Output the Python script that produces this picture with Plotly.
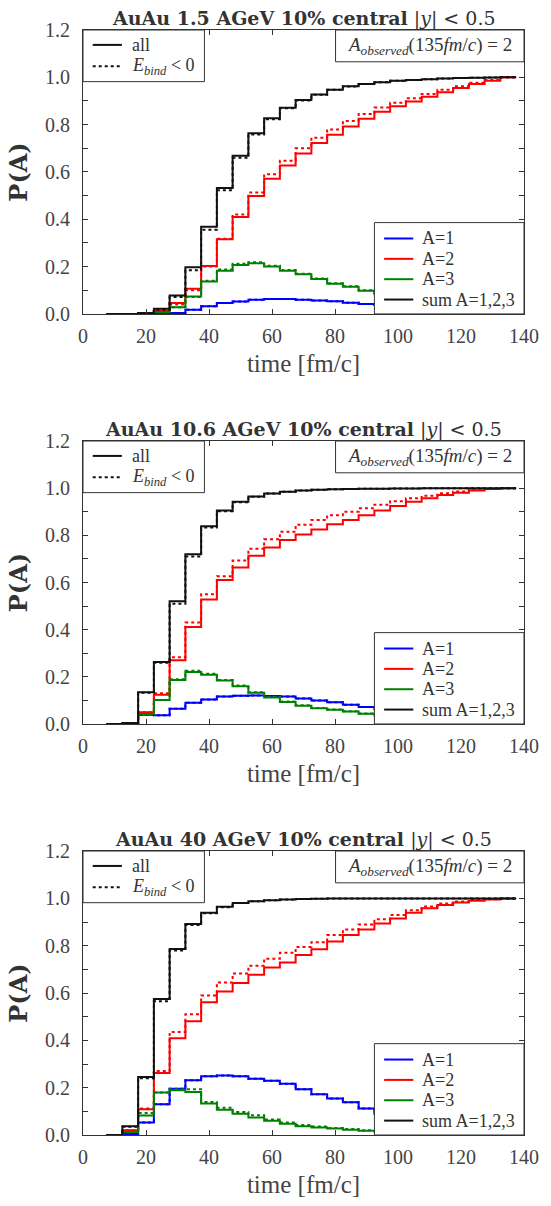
import plotly.graph_objects as go
from plotly.subplots import make_subplots

# ---------------------------------------------------------------------------
# Data: probability P(A) of the observed cluster size A, histogrammed in
# 5 fm/c time bins (bin centres below).  "_bind" series are the E_bind < 0 ones.
# ---------------------------------------------------------------------------
time_centers = [10, 15, 20, 25, 30, 35, 40, 45, 50, 55, 60, 65, 70,
                75, 80, 85, 90, 95, 100, 105, 110, 115, 120, 125, 130, 135]
bin_width = 5.0

# AuAu 1.5 AGeV
a1_15 = [0, 0, 0, 0.002, 0.004, 0.018, 0.032, 0.046, 0.053, 0.060, 0.063, 0.063, 0.060,
         0.057, 0.054, 0.047, 0.042, 0.038, 0.034, 0.030, 0.026, 0.021, 0.016, 0.010, 0.004, 0]
a2_15 = [0, 0, 0.002, 0.014, 0.046, 0.106, 0.203, 0.316, 0.410, 0.498, 0.571, 0.627, 0.678,
         0.722, 0.757, 0.792, 0.825, 0.855, 0.878, 0.898, 0.918, 0.937, 0.955, 0.972, 0.986, 1.0]
a3_15 = [0, 0, 0.002, 0.008, 0.028, 0.074, 0.137, 0.183, 0.207, 0.214, 0.200, 0.183, 0.168,
         0.148, 0.128, 0.115, 0.098, 0.085, 0.072, 0.060, 0.048, 0.038, 0.028, 0.018, 0.010, 0]
sum_15 = [0, 0, 0.004, 0.022, 0.078, 0.197, 0.368, 0.532, 0.669, 0.764, 0.827, 0.871, 0.904,
          0.927, 0.948, 0.962, 0.972, 0.979, 0.985, 0.989, 0.992, 0.995, 0.997, 0.998, 0.999, 1.0]
a1_bind_15 = list(a1_15)
a2_bind_15 = [0, 0, 0.002, 0.012, 0.040, 0.100, 0.200, 0.318, 0.420, 0.513, 0.590, 0.647, 0.700,
              0.745, 0.780, 0.815, 0.845, 0.872, 0.893, 0.912, 0.930, 0.947, 0.962, 0.977, 0.990, 1.0]
a3_bind_15 = [0, 0, 0.002, 0.008, 0.028, 0.072, 0.140, 0.188, 0.212, 0.218, 0.204, 0.186, 0.170,
              0.150, 0.130, 0.117, 0.100, 0.087, 0.074, 0.061, 0.049, 0.039, 0.029, 0.019, 0.010, 0]
sum_bind_15 = [0, 0, 0.003, 0.018, 0.072, 0.185, 0.356, 0.523, 0.660, 0.758, 0.823, 0.869, 0.902,
               0.926, 0.947, 0.961, 0.972, 0.979, 0.985, 0.989, 0.992, 0.995, 0.997, 0.998, 0.999, 1.0]

# AuAu 10.6 AGeV
a1_106 = [0, 0.001, 0.039, 0.037, 0.065, 0.090, 0.104, 0.116, 0.120, 0.121, 0.119, 0.116, 0.108,
          0.100, 0.092, 0.082, 0.072, 0.062, 0.052, 0.043, 0.035, 0.027, 0.018, 0.010, 0.004, 0]
a2_106 = [0, 0.001, 0.050, 0.124, 0.270, 0.411, 0.528, 0.611, 0.664, 0.713, 0.748, 0.780, 0.804,
          0.825, 0.847, 0.865, 0.885, 0.905, 0.924, 0.942, 0.957, 0.971, 0.981, 0.990, 0.996, 1.0]
a3_106 = [0, 0.002, 0.042, 0.102, 0.187, 0.220, 0.209, 0.184, 0.160, 0.132, 0.112, 0.093, 0.077,
          0.067, 0.060, 0.053, 0.043, 0.037, 0.030, 0.025, 0.020, 0.015, 0.010, 0.006, 0.003, 0]
sum_106 = [0, 0.004, 0.135, 0.263, 0.520, 0.720, 0.839, 0.905, 0.942, 0.965, 0.977, 0.985, 0.990,
           0.993, 0.995, 0.997, 0.998, 0.998, 0.999, 0.999, 1.0, 1.0, 1.0, 1.0, 1.0, 1.0]
a1_bind_106 = list(a1_106)
a2_bind_106 = [0, 0.001, 0.050, 0.130, 0.283, 0.430, 0.550, 0.627, 0.693, 0.743, 0.783, 0.815, 0.845,
               0.865, 0.885, 0.900, 0.915, 0.930, 0.945, 0.957, 0.968, 0.978, 0.986, 0.992, 0.997, 1.0]
a3_bind_106 = [0, 0.002, 0.042, 0.102, 0.190, 0.226, 0.213, 0.187, 0.163, 0.135, 0.114, 0.095, 0.079,
               0.068, 0.061, 0.054, 0.044, 0.038, 0.031, 0.025, 0.020, 0.015, 0.010, 0.006, 0.003, 0]
sum_bind_106 = [0, 0.004, 0.132, 0.260, 0.510, 0.710, 0.833, 0.902, 0.940, 0.964, 0.977, 0.985, 0.990,
                0.993, 0.995, 0.997, 0.998, 0.998, 0.999, 0.999, 1.0, 1.0, 1.0, 1.0, 1.0, 1.0]

# AuAu 40 AGeV
a1_40 = [0, 0.004, 0.053, 0.130, 0.195, 0.231, 0.248, 0.252, 0.248, 0.238, 0.229, 0.217, 0.193,
         0.172, 0.154, 0.138, 0.112, 0.090, 0.072, 0.050, 0.035, 0.023, 0.013, 0.007, 0.003, 0]
a2_40 = [0, 0.020, 0.109, 0.262, 0.409, 0.481, 0.561, 0.607, 0.642, 0.677, 0.708, 0.729, 0.761,
         0.785, 0.818, 0.845, 0.869, 0.894, 0.915, 0.939, 0.958, 0.972, 0.983, 0.990, 0.995, 1.0]
a3_40 = [0, 0.013, 0.082, 0.180, 0.189, 0.182, 0.133, 0.107, 0.090, 0.074, 0.060, 0.048, 0.037,
         0.032, 0.027, 0.022, 0.018, 0.015, 0.012, 0.010, 0.007, 0.005, 0.004, 0.003, 0.002, 0]
sum_40 = [0, 0.037, 0.245, 0.575, 0.786, 0.892, 0.939, 0.965, 0.981, 0.988, 0.992, 0.995, 0.997,
          0.998, 0.999, 0.999, 1.0, 1.0, 1.0, 1.0, 1.0, 1.0, 1.0, 1.0, 1.0, 1.0]
a1_bind_40 = list(a1_40)
a2_bind_40 = [0, 0.020, 0.112, 0.270, 0.435, 0.510, 0.590, 0.645, 0.683, 0.715, 0.745, 0.770, 0.795,
              0.815, 0.845, 0.868, 0.890, 0.912, 0.930, 0.950, 0.966, 0.978, 0.987, 0.993, 0.997, 1.0]
a3_bind_40 = [0, 0.014, 0.093, 0.180, 0.193, 0.193, 0.140, 0.115, 0.097, 0.083, 0.066, 0.053, 0.042,
              0.036, 0.030, 0.025, 0.020, 0.017, 0.013, 0.011, 0.008, 0.006, 0.004, 0.003, 0.002, 0]
sum_bind_40 = [0, 0.035, 0.240, 0.565, 0.780, 0.888, 0.937, 0.963, 0.980, 0.988, 0.992, 0.995, 0.997,
               0.998, 0.999, 0.999, 1.0, 1.0, 1.0, 1.0, 1.0, 1.0, 1.0, 1.0, 1.0, 1.0]

energies = ["1.5", "10.6", "40"]
panels = [
    dict(solid=[a1_15, a2_15, a3_15, sum_15], bind=[a1_bind_15, a2_bind_15, a3_bind_15, sum_bind_15]),
    dict(solid=[a1_106, a2_106, a3_106, sum_106], bind=[a1_bind_106, a2_bind_106, a3_bind_106, sum_bind_106]),
    dict(solid=[a1_40, a2_40, a3_40, sum_40], bind=[a1_bind_40, a2_bind_40, a3_bind_40, sum_bind_40]),
]
series_names = ["A=1", "A=2", "A=3", "sum A=1,2,3"]
series_colors = ["#0000ff", "#ff0000", "#008000", "#111111"]
style_names = ["all", "<i>E</i><sub><i>bind</i></sub> &lt; 0"]

# ---------------------------------------------------------------------------
# Page geometry (pixels)
# ---------------------------------------------------------------------------
W, H = 551, 1206
M_L, M_R, M_T, M_B = 83, 14, 30, 63
PLOT_W = W - M_L - M_R
panel_px = [(30, 316), (444, 729), (857, 1143)]   # (top, bottom) of each frame
paper_h = H - M_T - M_B


def to_paper_y(ypx):
    return (H - M_B - ypx) / paper_h


SERIF = "'Liberation Serif', 'Times New Roman', serif"
BOLD_SERIF = "'DejaVu Serif', serif"
FRAME = "#333333"
TEXT = "#333333"


def step_xy(vals):
    xs = [c - bin_width / 2 for c in time_centers] + [time_centers[-1] + bin_width / 2]
    ys = list(vals) + [vals[-1]]
    return xs, ys


fig = make_subplots(rows=3, cols=1)

for i, panel in enumerate(panels):
    row = i + 1
    for k in range(4):
        xs, ys = step_xy(panel["solid"][k])
        fig.add_trace(go.Scatter(x=xs, y=ys, mode="lines", line_shape="hv",
                                 name=series_names[k], showlegend=False,
                                 line=dict(color=series_colors[k], width=2),
                                 hoverinfo="skip"),
                      row=row, col=1)
        xb, yb = step_xy(panel["bind"][k])
        fig.add_trace(go.Scatter(x=xb, y=yb, mode="lines", line_shape="hv",
                                 name=series_names[k] + " (E_bind<0)", showlegend=False,
                                 line=dict(color=series_colors[k], width=2, dash="dot"),
                                 hoverinfo="skip"),
                      row=row, col=1)

layout = dict(
    width=W, height=H,
    margin=dict(l=M_L, r=M_R, t=M_T, b=M_B),
    paper_bgcolor="white", plot_bgcolor="white",
    showlegend=False,
    font=dict(family=SERIF, color=TEXT),
)

annotations = []
shapes = []


def fx(xpx):
    """pixel x -> x-domain fraction"""
    return (xpx - M_L) / PLOT_W


for i, (ptop, pbot) in enumerate(panel_px):
    dom = [to_paper_y(pbot), to_paper_y(ptop)]
    ph = pbot - ptop
    sfx = "" if i == 0 else str(i + 1)
    xr = "x" + sfx + " domain"
    yr = "y" + sfx + " domain"

    def fy_top(dy):
        return 1 - dy / ph

    def fy_bot(dy):
        return dy / ph

    layout["xaxis" + sfx] = dict(
        domain=[0, 1], range=[0, 140], dtick=20, tick0=0,
        showline=True, linecolor=FRAME, linewidth=1, mirror="ticks",
        ticks="inside", ticklen=5, tickcolor=FRAME, showgrid=False, zeroline=False,
        ticklabeloverflow="allow",
        tickfont=dict(family=SERIF, size=20, color="#444444"), ticklabelstandoff=4,
        title=dict(text="time [fm/c]", font=dict(family=SERIF, size=25, color="#444444"),
                   standoff=8),
    )
    layout["yaxis" + sfx] = dict(
        domain=dom, range=[0, 1.2], dtick=0.2, tick0=0, tickformat=".1f",
        showline=True, linecolor=FRAME, linewidth=1, mirror="ticks",
        ticks="inside", ticklen=5, tickcolor=FRAME, showgrid=False, zeroline=False,
        minor=dict(dtick=0.1, ticks="inside", ticklen=5, tickcolor=FRAME, showgrid=False),
        tickfont=dict(family=SERIF, size=20, color="#444444"), ticklabelstandoff=8,
        title=dict(text="<b>P(A)</b>", font=dict(family=BOLD_SERIF, size=24, color=TEXT),
                   standoff=10),
    )

    # panel title
    annotations.append(dict(
        text=f"<b>AuAu {energies[i]} AGeV 10% central</b> |<i>y</i>| &lt; 0.5",
        xref="paper", yref="paper", x=0.5, y=dom[1], xanchor="center", yanchor="bottom",
        yshift=-2, showarrow=False, font=dict(family=BOLD_SERIF, size=19, color=TEXT)))

    # line-style key (upper left)
    shapes.append(dict(type="rect", xref=xr, yref=yr, x0=0, x1=fx(208),
                       y0=fy_top(52), y1=1.0,
                       line=dict(color=FRAME, width=1), fillcolor="white", layer="above"))
    for j, (dy, dash) in enumerate([(15, "solid"), (36.5, "dot")]):
        shapes.append(dict(type="line", xref=xr, yref=yr, x0=fx(93), x1=fx(123),
                           y0=fy_top(dy), y1=fy_top(dy), layer="above",
                           line=dict(color=series_colors[3], width=2, dash=dash)))
        annotations.append(dict(text=style_names[j], xref=xr, yref=yr,
                                x=fx(131), y=fy_top(dy), xanchor="left", yanchor="middle",
                                showarrow=False, font=dict(family=SERIF, size=18, color=TEXT)))

    # observed-size box (upper right)
    shapes.append(dict(type="rect", xref=xr, yref=yr, x0=fx(343), x1=1.0,
                       y0=fy_top(32), y1=1.0,
                       line=dict(color=FRAME, width=1), fillcolor="white", layer="above"))
    annotations.append(dict(
        text="<i>A</i><sub><i>observed</i></sub>(135<i>fm</i>/<i>c</i>) = 2",
        xref=xr, yref=yr, x=fx(440), y=fy_top(16), xanchor="center", yanchor="middle",
        showarrow=False, font=dict(family=SERIF, size=19, color=TEXT)))

    # series key (lower right)
    shapes.append(dict(type="rect", xref=xr, yref=yr, x0=fx(383), x1=1.0,
                       y0=0, y1=fy_bot(92),
                       line=dict(color=FRAME, width=1), fillcolor="white", layer="above"))
    for k, dy in enumerate([76, 55.5, 35, 14.5]):
        shapes.append(dict(type="line", xref=xr, yref=yr, x0=fx(393), x1=fx(423),
                           y0=fy_bot(dy), y1=fy_bot(dy), layer="above",
                           line=dict(color=series_colors[k], width=2)))
        annotations.append(dict(text=series_names[k], xref=xr, yref=yr,
                                x=fx(430), y=fy_bot(dy), xanchor="left", yanchor="middle",
                                showarrow=False, font=dict(family=SERIF, size=18, color=TEXT)))

layout["annotations"] = annotations
layout["shapes"] = shapes
fig.update_layout(**layout)

fig.write_html("out.html")
